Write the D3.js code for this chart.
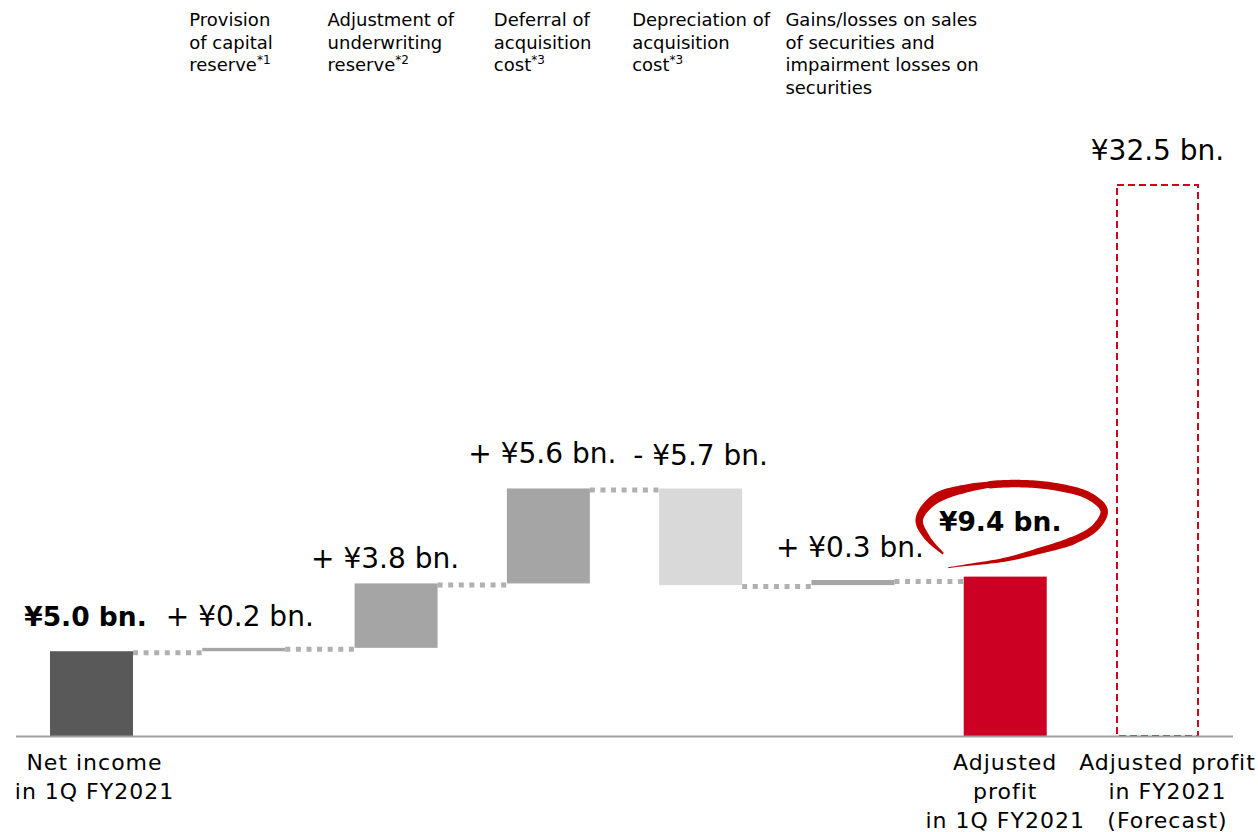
<!DOCTYPE html>
<html>
<head>
<meta charset="utf-8">
<script src="https://cdn.jsdelivr.net/npm/d3@7/dist/d3.min.js"></script>
<style>
  html, body { margin: 0; padding: 0; background: #fff; }
  svg { display: block; }
  text { font-family: "DejaVu Sans", Verdana, sans-serif; fill: #000; }
</style>
</head>
<body>
<svg id="chart" width="1258" height="832"></svg>
<script>
// Waterfall steps, in order
const stepIds = ["net", "capRes", "uwRes", "defAcq", "depAcq", "secGains", "adj1Q", "adjFY"];
const stepKinds = ["total", "delta", "delta", "delta", "delta", "delta", "total", "forecast"];
const stepValues = [5.0, 0.2, 3.8, 5.6, -5.7, 0.3, 9.4, 32.5];
const valueLabels = ["¥5.0 bn.", "+ ¥0.2 bn.", "+ ¥3.8 bn.", "+ ¥5.6 bn.", "- ¥5.7 bn.", "+ ¥0.3 bn.", "¥9.4 bn.", "¥32.5 bn."];
const boldLabels = [true, false, false, false, false, false, true, false];

// Column headings above the adjustment steps
const headerLines = [
  null,
  ["Provision", "of capital", "reserve"],
  ["Adjustment of", "underwriting", "reserve"],
  ["Deferral of", "acquisition", "cost"],
  ["Depreciation of", "acquisition", "cost"],
  ["Gains/losses on sales", "of securities and", "impairment losses on", "securities"],
  null,
  null
];
const headerNotes = ["", "*1", "*2", "*3", "*3", "", "", ""];

// Category labels under the baseline
const axisLines = [
  ["Net income", "in 1Q FY2021"],
  null, null, null, null, null,
  ["Adjusted", "profit", "in 1Q FY2021"],
  ["Adjusted profit", "in FY2021", "(Forecast)"]
];

// Layout
const baseY = 736;
const topY = 185;
const layout = {
  headerDx: [0, -13, -27, -13, -27, -26, 0, 0],
  labelDy: [25, 22, 15, 25, 23, 23, 46, 25],
  labelDx: [-6, -4, -11, -6, 0, -3, -5, 0],
  axisDx: [3, 0, 0, 0, 0, 0, 0, 10]
};

const colors = {
  total: "#595959",
  up: "#a5a5a5",
  down: "#d9d9d9",
  result: "#cc0022",
  forecast: "#d0021b",
  connector: "#b0b0b0",
  axis: "#a0a0a0",
  ring: "#c00000"
};

const svg = d3.select("#chart");

const x = d3.scaleBand()
  .domain(stepIds)
  .range([50, 1199])
  .paddingInner(0.455)
  .paddingOuter(0);

const y = d3.scaleLinear()
  .domain([0, 32.5])
  .range([baseY, topY]);

// Running totals: each step gets a [start, end] span
let running = 0;
const steps = stepIds.map((id, i) => {
  const v = stepValues[i];
  let start, end;
  if (stepKinds[i] === "delta") {
    start = running;
    end = running + v;
  } else {
    start = 0;
    end = v;
  }
  if (stepKinds[i] !== "forecast") running = end;
  return { id, i, kind: stepKinds[i], value: v, start, end,
           lo: Math.min(start, end), hi: Math.max(start, end) };
});

function fillFor(d) {
  if (d.kind === "total") return d.i === 0 ? colors.total : colors.result;
  if (d.kind === "delta") return d.value >= 0 ? colors.up : colors.down;
  return "none";
}

// Connectors between consecutive steps
const links = steps.slice(0, 6).map((d, k) => ({ from: d, to: steps[k + 1], level: d.end }));
svg.append("g").selectAll("line")
  .data(links)
  .join("line")
  .attr("x1", d => x(d.from.id) + x.bandwidth())
  .attr("x2", d => x(d.to.id) + 2)
  .attr("y1", d => y(d.level) + 1.5)
  .attr("y2", d => y(d.level) + 1.5)
  .attr("stroke", colors.connector)
  .attr("stroke-width", 5)
  .attr("stroke-dasharray", "5,5.6");

// Bars
svg.append("g").selectAll("rect")
  .data(steps.filter(d => d.kind !== "forecast"))
  .join("rect")
  .attr("x", d => x(d.id))
  .attr("width", x.bandwidth())
  .attr("y", d => y(d.hi))
  .attr("height", d => Math.max(1, y(d.lo) - y(d.hi)))
  .attr("fill", fillFor);

// Forecast outline
svg.append("g").selectAll("rect")
  .data(steps.filter(d => d.kind === "forecast"))
  .join("rect")
  .attr("x", d => x(d.id) + 1)
  .attr("width", x.bandwidth() - 2)
  .attr("y", d => y(d.hi))
  .attr("height", d => y(d.lo) - y(d.hi))
  .attr("fill", "none")
  .attr("stroke", colors.forecast)
  .attr("stroke-width", 2)
  .attr("stroke-dasharray", "7,4");

// Baseline
svg.append("line")
  .attr("x1", 16).attr("x2", 1233)
  .attr("y1", baseY + 0.5).attr("y2", baseY + 0.5)
  .attr("stroke", colors.axis)
  .attr("stroke-width", 2);

// Value labels
svg.append("g").selectAll("text")
  .data(steps)
  .join("text")
  .attr("x", d => x(d.id) + x.bandwidth() / 2 + layout.labelDx[d.i])
  .attr("y", d => y(d.hi) - layout.labelDy[d.i])
  .attr("text-anchor", "middle")
  .attr("font-size", d => boldLabels[d.i] ? 26.5 : 28)
  .attr("font-weight", d => boldLabels[d.i] ? "bold" : "normal")
  .text(d => valueLabels[d.i]);

// Hand-drawn ring around the 1Q adjusted profit label
(function drawRing() {
  const d = steps[6];
  const cx = x(d.id) + x.bandwidth() / 2 + layout.labelDx[d.i];
  const cy = y(d.hi) - layout.labelDy[d.i];
  const rel = [[-57, 23], [-73, 7], [-81, -11], [-66, -31], [-30, -43], [10, -47],
               [55, -44], [90, -34], [104, -20], [96, -4], [75, 9], [40, 20],
               [5, 29], [-30, 34], [-52, 37]];
  const pts = rel.map(p => [cx + p[0], cy + p[1]]);
  const center = d3.line().curve(d3.curveCatmullRom.alpha(0.5))(pts);
  const tmp = svg.append("path").attr("d", center).attr("fill", "none");
  const node = tmp.node();
  const L = node.getTotalLength();
  const N = 160;
  const samples = d3.range(N + 1).map(k => {
    const p = node.getPointAtLength(L * k / N);
    return [p.x, p.y];
  });
  tmp.remove();
  const width = t => {
    if (t < 0.06) return 2 + 70 * t;
    if (t < 0.3) return 6.2 + 4 * (1 - Math.abs(t - 0.18) / 0.12);
    if (t < 0.7) return 7.5;
    return Math.max(1, 7.5 * (1 - (t - 0.7) / 0.3) + 0.6);
  };
  const left = [], right = [];
  samples.forEach((p, k) => {
    const a = samples[Math.max(0, k - 1)], b = samples[Math.min(N, k + 1)];
    let dx = b[0] - a[0], dy = b[1] - a[1];
    const len = Math.hypot(dx, dy) || 1;
    const nx = -dy / len, ny = dx / len;
    const w = width(k / N) / 2;
    left.push([p[0] + nx * w, p[1] + ny * w]);
    right.push([p[0] - nx * w, p[1] - ny * w]);
  });
  const outline = left.concat(right.reverse());
  svg.append("path")
    .attr("d", d3.line()(outline) + "Z")
    .attr("fill", colors.ring);
})();

// Column headings
const headG = svg.append("g");
steps.forEach(d => {
  const lines = headerLines[d.i];
  if (!lines) return;
  const t = headG.append("text")
    .attr("x", x(d.id) + layout.headerDx[d.i])
    .attr("y", 26)
    .attr("font-size", 18);
  lines.forEach((ln, k) => {
    t.append("tspan")
      .attr("x", x(d.id) + layout.headerDx[d.i])
      .attr("y", 26 + k * 22.6)
      .text(ln);
    if (k === lines.length - 1 && headerNotes[d.i]) {
      t.append("tspan")
        .attr("dy", -7)
        .attr("font-size", 12)
        .text(headerNotes[d.i]);
    }
  });
});

// Category labels under the axis
const axG = svg.append("g");
steps.forEach(d => {
  const lines = axisLines[d.i];
  if (!lines) return;
  const cx = x(d.id) + x.bandwidth() / 2 + layout.axisDx[d.i];
  const t = axG.append("text")
    .attr("text-anchor", "middle")
    .attr("font-size", 22)
    .attr("letter-spacing", 1);
  lines.forEach((ln, k) => {
    t.append("tspan")
      .attr("x", cx)
      .attr("y", 770 + k * 29)
      .text(ln);
  });
});
</script>
</body>
</html>
